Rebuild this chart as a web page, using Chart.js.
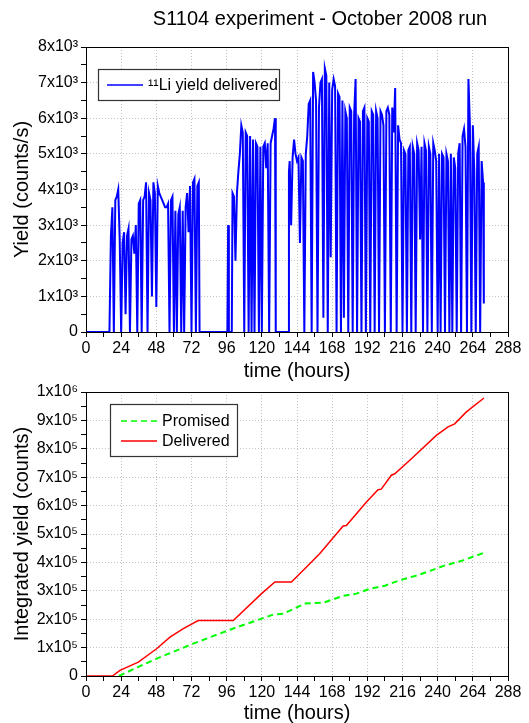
<!DOCTYPE html>
<html>
<head>
<meta charset="utf-8">
<script src="https://cdn.jsdelivr.net/npm/chart.js@4/dist/chart.umd.min.js"></script>
<style>
  body { margin: 0; background: #fff; }
  #yieldChart { position: absolute; left: 0; top: 0; }
  #integralChart { position: absolute; left: 0; top: 360px; }
</style>
</head>
<body>
<canvas id="yieldChart" width="529" height="385"></canvas>
<canvas id="integralChart" width="529" height="363"></canvas>
<script>
const chartTitle = 'S1104 experiment - October 2008 run';

// tick labels
const hourTickLabels = ['0', '24', '48', '72', '96', '120', '144', '168', '192', '216', '240', '264', '288'];
const yieldTickLabels = ['0', '1x10³', '2x10³', '3x10³', '4x10³', '5x10³', '6x10³', '7x10³', '8x10³'];
const integralTickLabels = ['0', '1x10⁵', '2x10⁵', '3x10⁵', '4x10⁵', '5x10⁵', '6x10⁵', '7x10⁵', '8x10⁵', '9x10⁵', '1x10⁶'];

// top panel: yield rate (counts/s) vs time (hours)
const rateHours = [
  0, 16, 17, 18, 19, 20, 21, 22, 23, 24,
  25, 26, 27, 28, 29, 30, 31, 32, 33, 34,
  35, 36, 37, 38, 39, 40, 41, 42, 43, 44,
  45, 46, 47, 48, 49, 50, 51, 52, 53, 54,
  55, 56, 57, 58, 59, 60, 61, 62, 63, 64,
  65, 66, 67, 68, 69, 70, 71, 72, 73, 74,
  75, 76, 77, 77.5, 96.5, 97, 97.5, 99.5, 100, 101,
  102, 103, 104, 105, 106, 107, 108, 109, 110, 111,
  112, 113, 114, 115, 116, 117, 118, 119, 120, 121,
  122, 123, 124, 125, 126, 127, 128, 129, 129.5, 138,
  138.5, 139, 140, 141, 142, 143, 144, 145, 146, 147,
  148, 149, 150, 151, 152, 153, 154, 155, 156, 157,
  158, 159, 160, 161, 162, 163, 164, 165, 166, 167,
  168, 169, 170, 171, 172, 173, 174, 175, 176, 177,
  178, 179, 180, 181, 182, 183, 184, 185, 186, 187,
  188, 189, 190, 191, 192, 193, 194, 195, 196, 197,
  198, 199, 200, 201, 202, 203, 204, 205, 206, 207,
  208, 209, 210, 211, 212, 213, 214, 215, 216, 217,
  218, 219, 220, 221, 222, 223, 224, 225, 226, 227,
  228, 229, 230, 231, 232, 233, 234, 235, 236, 237,
  238, 239, 240, 241, 242, 243, 244, 245, 246, 247,
  248, 249, 250, 251, 252, 253, 254, 255, 256, 257,
  258, 259, 260, 261, 262, 263, 264, 265, 266, 267,
  268, 269, 270, 271, 271.5
];
const rateValues = [
  0, 0, 2700, 3500, 0, 3700, 3800, 4000, 2600, 0,
  2500, 2800, 500, 2700, 2900, 0, 2600, 2700, 2200, 3000,
  0, 3600, 3700, 0, 3700, 3800, 4200, 0, 3900, 3700,
  1000, 4200, 3900, 700, 4100, 3900, 3800, 3700, 3600, 3500,
  3500, 3600, 0, 3700, 3800, 0, 3400, 0, 3300, 3500,
  0, 3400, 0, 3500, 3900, 2800, 4100, 0, 4200, 4300,
  0, 4100, 4200, 0, 0, 3000, 0, 0, 3900, 3800,
  2000, 3900, 4500, 5000, 5800, 5600, 0, 5600, 5500, 0,
  5500, 0, 5400, 0, 5300, 5200, 0, 5200, 0, 5200,
  5300, 4600, 5300, 0, 5300, 5500, 5700, 6000, 0, 0,
  4500, 4800, 3000, 4900, 5400, 5000, 4800, 4900, 2500, 4900,
  4800, 0, 5000, 5500, 6400, 6500, 0, 7300, 7000, 6500,
  0, 6300, 7000, 7100, 400, 7400, 7200, 0, 7000, 2100,
  6800, 7100, 6900, 0, 6700, 6600, 0, 6500, 400, 6200,
  6000, 0, 6300, 6200, 0, 6100, 7100, 0, 6000, 5900,
  0, 6200, 6300, 0, 6000, 5900, 0, 6200, 6100, 0,
  6200, 6000, 0, 6200, 6100, 5800, 0, 6200, 6300, 6100,
  0, 6300, 5600, 6850, 0, 5800, 5400, 5300, 0, 5100,
  5000, 0, 5100, 5200, 0, 5200, 5000, 0, 5300, 5100,
  2600, 5200, 0, 5300, 5100, 0, 5200, 5000, 0, 5300,
  5100, 4800, 0, 5000, 0, 5000, 4900, 0, 5000, 4800,
  0, 5000, 0, 4900, 4600, 0, 5000, 5300, 0, 5500,
  5700, 5200, 0, 7100, 5800, 0, 5800, 4500, 0, 5000,
  5200, 0, 4800, 4200, 800
];

// bottom panel: integrated yield (counts)
const promisedHours = [22.5, 35.7, 48.2, 73.2, 98.2, 119.8, 127.7, 134.6, 149.3, 161.8, 175.5, 184.6, 193.6, 203.9, 214.1, 227.7, 243.6, 257.3, 271.6];
const promisedCounts = [0, 32000, 61000, 114000, 163000, 202000, 216000, 219000, 255000, 258000, 282000, 290000, 307000, 318000, 337000, 357000, 387000, 407000, 434000];
const deliveredHours = [0, 18, 23.2, 35.7, 48.2, 57.3, 66.4, 76.6, 100.5, 119.8, 128.9, 140.2, 150.5, 159.6, 175.5, 177.7, 191.4, 199.3, 201.5, 208.4, 210.7, 222.1, 239.1, 247.1, 251.6, 259.6, 271.6];
const deliveredCounts = [0, 0, 20000, 49000, 96000, 137000, 167000, 195000, 195000, 290000, 331000, 331000, 384000, 431000, 528000, 530000, 613000, 656000, 658000, 707000, 712000, 765000, 847000, 877000, 888000, 930000, 979000];

const toPoints = (xs, ys) => xs.map((x, i) => ({ x: x, y: ys[i] }));
const FONT = 'Arial, "Liberation Sans", sans-serif';

// frame round the plot area + title text
const framePlugin = {
  id: 'frame',
  afterDraw(chart, args, opts) {
    const { ctx, chartArea: a } = chart;
    ctx.save();
    ctx.strokeStyle = '#000';
    ctx.lineWidth = 1;
    ctx.strokeRect(Math.round(a.left) + 0.5, Math.round(a.top) + 0.5, Math.round(a.right - a.left), Math.round(a.bottom - a.top));
    if (opts.title) {
      ctx.fillStyle = '#000';
      ctx.font = '20px ' + FONT;
      ctx.textAlign = 'center';
      ctx.textBaseline = 'middle';
      ctx.fillText(opts.title, opts.titleX, opts.titleY);
    }
    ctx.restore();
  }
};

// legend drawn inside a box
const boxLegend = {
  id: 'boxLegend',
  afterDatasetsDraw(chart, args, opts) {
    const ctx = chart.ctx;
    const [bx, by, bw, bh] = opts.box;
    ctx.save();
    ctx.fillStyle = '#fff';
    ctx.fillRect(bx, by, bw, bh);
    ctx.strokeStyle = '#333';
    ctx.lineWidth = 1.2;
    ctx.strokeRect(bx + 0.5, by + 0.5, bw, bh);
    chart.data.datasets.forEach((ds, i) => {
      const y = by + opts.rowTop + i * opts.rowGap;
      ctx.strokeStyle = ds.borderColor;
      ctx.lineWidth = Math.min(ds.borderWidth, 1.6);
      ctx.setLineDash(ds.borderDash || []);
      ctx.beginPath();
      ctx.moveTo(bx + opts.lineStart, y);
      ctx.lineTo(bx + opts.lineEnd, y);
      ctx.stroke();
      ctx.setLineDash([]);
      ctx.fillStyle = '#000';
      ctx.font = '16px ' + FONT;
      ctx.textAlign = 'left';
      ctx.textBaseline = 'middle';
      ctx.fillText(ds.label, bx + opts.textStart, y + 1);
    });
    ctx.restore();
  }
};

const hourAxis = (axisHeight, titlePad, titleLine) => ({
  type: 'linear',
  min: 0,
  max: 288,
  afterFit: s => { s.height = axisHeight; },
  ticks: {
    stepSize: 12,
    autoSkip: false,
    maxRotation: 0,
    padding: 2,
    color: '#000',
    font: { size: 16, family: FONT },
    callback: v => (v % 24 === 0 ? hourTickLabels[v / 24] : '')
  },
  grid: {
    color: c => (c.tick && c.tick.value % 24 === 0 ? '#c4c4c4' : 'rgba(0,0,0,0)'),
    tickColor: '#000',
    tickLength: 5
  },
  border: { color: '#000', width: 1, dash: [1, 2] },
  title: {
    display: true,
    text: 'time (hours)',
    color: '#000',
    font: { size: 20, family: FONT, lineHeight: titleLine },
    padding: { top: 0, bottom: titlePad }
  }
});

const valueAxis = (max, step, major, labels, titleText) => ({
  min: 0,
  max: max,
  afterFit: s => { s.width = 86; },
  ticks: {
    stepSize: step,
    autoSkip: false,
    padding: 3,
    color: '#000',
    font: { size: 16, family: FONT },
    callback: v => (v % major === 0 ? labels[v / major] : '')
  },
  grid: {
    color: c => (c.tick && c.tick.value % major === 0 ? '#c4c4c4' : 'rgba(0,0,0,0)'),
    tickColor: '#000',
    tickLength: 5
  },
  border: { color: '#000', width: 1, dash: [1, 2] },
  title: {
    display: true,
    text: titleText,
    color: '#000',
    font: { size: 20, family: FONT, lineHeight: 1.2 },
    padding: { top: 10, bottom: 0 }
  }
});

new Chart(document.getElementById('yieldChart'), {
  type: 'line',
  data: {
    datasets: [{
      label: '¹¹Li yield delivered',
      data: toPoints(rateHours, rateValues),
      borderColor: '#0000ff',
      borderWidth: 2,
      pointRadius: 0,
      tension: 0,
      clip: false
    }]
  },
  options: {
    responsive: false,
    animation: false,
    devicePixelRatio: 1,
    layout: { padding: { top: 47, right: 21, left: 0, bottom: 0 } },
    scales: {
      x: hourAxis(53, 2, 1.2),
      y: valueAxis(8000, 500, 1000, yieldTickLabels, 'Yield (counts/s)')
    },
    plugins: {
      legend: { display: false },
      tooltip: { enabled: false },
      frame: { title: chartTitle, titleX: 320, titleY: 19 },
      boxLegend: { box: [98, 69, 181, 31], rowTop: 16, rowGap: 20, lineStart: 9, lineEnd: 45, textStart: 50 }
    }
  },
  plugins: [framePlugin, boxLegend]
});

new Chart(document.getElementById('integralChart'), {
  type: 'line',
  data: {
    datasets: [{
      label: 'Promised',
      data: toPoints(promisedHours, promisedCounts),
      borderColor: '#00ff00',
      borderWidth: 2,
      borderDash: [6, 4],
      pointRadius: 0,
      tension: 0,
      clip: false
    }, {
      label: 'Delivered',
      data: toPoints(deliveredHours, deliveredCounts),
      borderColor: '#ff0000',
      borderWidth: 1.5,
      pointRadius: 0,
      tension: 0,
      clip: false
    }]
  },
  options: {
    responsive: false,
    animation: false,
    devicePixelRatio: 1,
    layout: { padding: { top: 32, right: 21, left: 0, bottom: 0 } },
    scales: {
      x: hourAxis(47, 0, 1),
      y: valueAxis(1000000, 50000, 100000, integralTickLabels, 'Integrated yield (counts)')
    },
    plugins: {
      legend: { display: false },
      tooltip: { enabled: false },
      frame: {},
      boxLegend: { box: [110, 44, 127, 52], rowTop: 17, rowGap: 20, lineStart: 11, lineEnd: 47, textStart: 52 }
    }
  },
  plugins: [framePlugin, boxLegend]
});
</script>
</body>
</html>
